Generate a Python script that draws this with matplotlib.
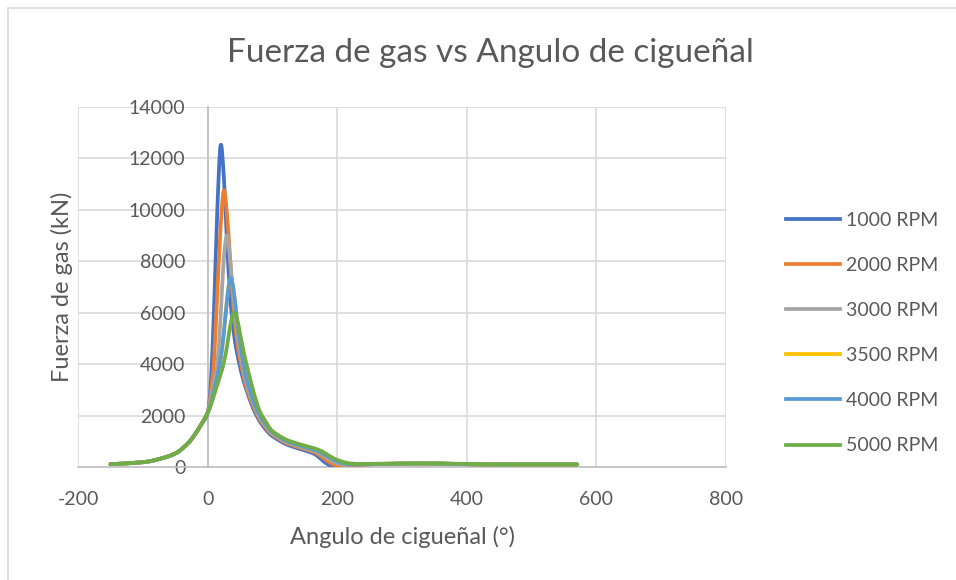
import matplotlib
matplotlib.use("Agg")
import matplotlib.pyplot as plt
from matplotlib.path import Path
from matplotlib.patches import PathPatch, Rectangle
from matplotlib.lines import Line2D

plt.rcParams['font.family'] = ['Lato', 'DejaVu Sans']
plt.rcParams['axes.unicode_minus'] = False

# Crank angle (degrees)
angulo = [-150, -120, -90, -60, -45, -30, -20, -10, 0, 5, 10, 15, 20, 25, 30, 35, 40, 45,
          50, 55, 60, 70, 80, 90, 100, 120, 140, 160, 170, 180, 190, 200, 210, 220, 240,
          300, 360, 420, 480, 540, 570]

# Gas force (kN) per engine speed
f_1000 = [110, 150, 220, 420, 600, 930, 1250, 1650, 2100, 3300, 6200, 10000, 12500, 11300,
          8700, 6600, 5300, 4500, 3900, 3400, 3000, 2300, 1800, 1450, 1200, 900, 720, 560,
          420, 200, 50, 20, 40, 70, 100, 130, 130, 100, 100, 100, 100]
f_2000 = [110, 150, 220, 420, 600, 930, 1250, 1650, 2100, 2900, 4200, 6800, 9300, 10750,
          9800, 8000, 6200, 5000, 4200, 3600, 3100, 2400, 1880, 1520, 1260, 950, 770, 620,
          500, 320, 150, 50, 40, 70, 100, 130, 130, 100, 100, 100, 100]
f_3000 = [110, 150, 220, 420, 600, 930, 1250, 1650, 2100, 2700, 3300, 4000, 5800, 8100,
          9000, 8000, 6600, 5400, 4500, 3800, 3250, 2500, 1950, 1580, 1300, 990, 810, 660,
          560, 420, 260, 140, 90, 90, 110, 130, 130, 100, 100, 100, 100]
f_3500 = [110, 150, 220, 420, 600, 930, 1250, 1650, 2100, 2500, 3000, 3600, 4200, 5200,
          6500, 7350, 6900, 5800, 4800, 4000, 3400, 2600, 2020, 1640, 1350, 1030, 850, 700,
          610, 490, 340, 210, 140, 110, 110, 130, 130, 100, 100, 100, 100]
f_4000 = [110, 150, 220, 420, 600, 930, 1250, 1650, 2100, 2500, 3000, 3600, 4200, 5200,
          6500, 7350, 6900, 5800, 4800, 4000, 3400, 2600, 2020, 1640, 1350, 1030, 850, 700,
          610, 490, 340, 210, 140, 110, 110, 130, 130, 100, 100, 100, 100]
f_5000 = [110, 150, 220, 420, 600, 930, 1250, 1650, 2100, 2400, 2800, 3200, 3600, 4050,
          4700, 5500, 6000, 5800, 5200, 4550, 4000, 3000, 2200, 1750, 1400, 1080, 900, 760,
          680, 560, 400, 280, 190, 140, 120, 140, 140, 110, 100, 100, 100]

series = [("1000 RPM", f_1000), ("2000 RPM", f_2000), ("3000 RPM", f_3000),
          ("3500 RPM", f_3500), ("4000 RPM", f_4000), ("5000 RPM", f_5000)]
colors = ["#4472C4", "#ED7D31", "#A5A5A5", "#FFC000", "#5B9BD5", "#70AD47"]

x_ticks = [-200, 0, 200, 400, 600, 800]
y_ticks = [0, 2000, 4000, 6000, 8000, 10000, 12000, 14000]

TXT = "#595959"
LW = 2.7


def smooth_path(xs, ys):
    """Catmull-Rom style cubic Bezier through the points (smoothed line)."""
    n = len(xs)
    verts = [(xs[0], ys[0])]
    codes = [Path.MOVETO]
    for i in range(n - 1):
        x0, y0 = (xs[i - 1], ys[i - 1]) if i > 0 else (xs[i], ys[i])
        x1, y1 = xs[i], ys[i]
        x2, y2 = xs[i + 1], ys[i + 1]
        x3, y3 = (xs[i + 2], ys[i + 2]) if i + 2 < n else (x2, y2)
        c1 = (x1 + (x2 - x0) / 6.0, y1 + (y2 - y0) / 6.0)
        c2 = (x2 - (x3 - x1) / 6.0, y2 - (y3 - y1) / 6.0)
        verts += [c1, c2, (x2, y2)]
        codes += [Path.CURVE4] * 3
    return Path(verts, codes)


fig = plt.figure(figsize=(9.56, 5.8), dpi=100)
fig.patch.set_facecolor("white")
fig.patches.append(Rectangle((8 / 956, -0.1), 1.2, 1 - 8 / 580 + 0.1,
                             transform=fig.transFigure, fill=False,
                             edgecolor="#D9D9D9", lw=1.2))

ax = fig.add_axes([78 / 956, 1 - 467 / 580, (726 - 78) / 956, (467 - 107) / 580])
ax.set_xlim(-200, 800)
ax.set_ylim(0, 14000)

for (label, vals), c in zip(series, colors):
    patch = PathPatch(smooth_path(angulo, vals), fill=False, edgecolor=c,
                      lw=LW, capstyle="round", joinstyle="round", zorder=3)
    ax.add_patch(patch)

ax.set_xticks(x_ticks)
ax.set_yticks(y_ticks)
ax.grid(True, color="#D9D9D9", lw=1.2, zorder=0)
ax.set_axisbelow(True)

for s in ["top", "right"]:
    ax.spines[s].set_visible(False)
ax.spines["left"].set_position(("data", 0))
ax.spines["left"].set_color("#BFBFBF")
ax.spines["bottom"].set_color("#BFBFBF")
ax.spines["left"].set_linewidth(1.2)
ax.spines["bottom"].set_linewidth(1.2)
ax.tick_params(axis="both", length=0, labelsize=14, labelcolor=TXT)
ax.tick_params(axis="y", pad=16)
ax.tick_params(axis="x", pad=17)

fig.text(490 / 956, 1 - 53 / 580, "Fuerza de gas vs Angulo de cigueñal",
         ha="center", va="center", fontsize=24, color=TXT)
fig.text(402 / 956, 1 - 537 / 580, "Angulo de cigueñal (°)",
         ha="center", va="center", fontsize=17, color=TXT)
fig.text(62 / 956, 1 - 287 / 580, "Fuerza de gas (kN)", rotation=90,
         ha="center", va="center", fontsize=17, color=TXT)

handles = [Line2D([0], [0], color=c, lw=LW) for c in colors]
labels = [s[0] for s in series]
fig.legend(handles, labels, loc="center left",
           bbox_to_anchor=(776 / 956, 1 - 333 / 580), frameon=False,
           fontsize=14, labelcolor=TXT, labelspacing=1.45,
           handlelength=2.8, handletextpad=0.3, borderpad=0)

fig.savefig("out.png", dpi=100)
